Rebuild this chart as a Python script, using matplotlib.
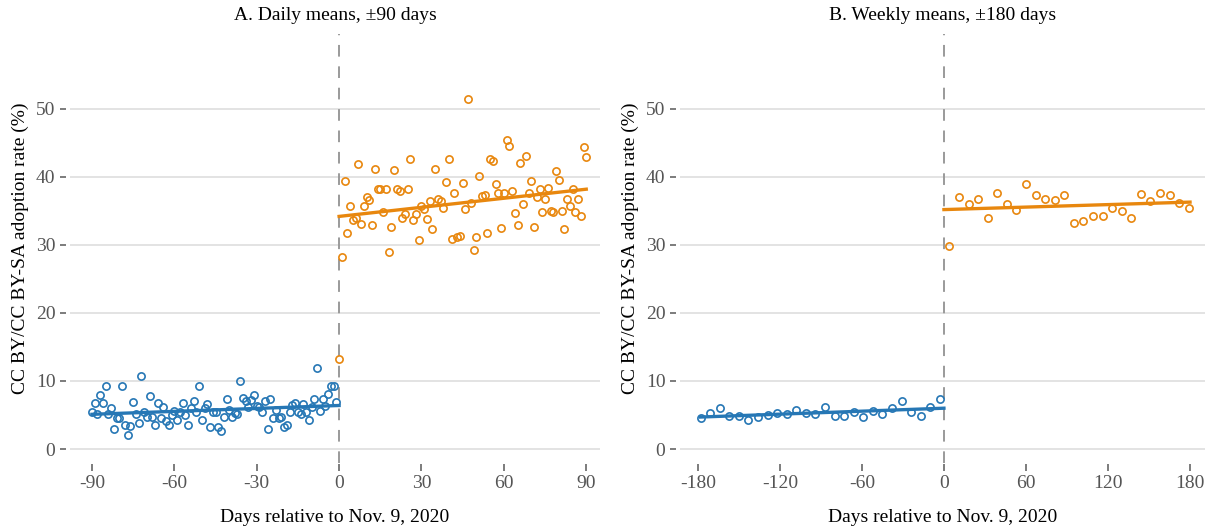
import matplotlib.pyplot as plt
import numpy as np

plt.rcParams['font.family'] = ['Liberation Serif', 'DejaVu Serif']

blue = '#2677b5'
orange = '#e8870e'
grey_txt = '#555555'

# panel A: daily means
daily_pre_days = list(range(-90, 0))
daily_pre = [5.5, 6.7, 5.1, 7.9, 6.7, 9.3, 5.1, 6.0, 3.0, 4.5,
             4.5, 9.3, 3.6, 2.0, 3.4, 6.9, 5.1, 3.8, 10.8, 5.4,
             4.7, 7.8, 4.7, 3.6, 6.8, 4.6, 6.2, 4.1, 3.5, 5.0,
             5.6, 4.3, 5.4, 6.8, 5.0, 3.6, 6.0, 7.1, 5.4, 9.3,
             4.2, 6.1, 6.6, 3.2, 5.5, 5.5, 3.2, 2.6, 4.7, 7.3,
             5.8, 4.7, 5.3, 5.1, 10.0, 7.5, 7.1, 6.2, 7.2, 7.9,
             6.3, 6.2, 5.5, 7.0, 2.9, 7.4, 4.6, 5.8, 4.5, 4.7,
             3.2, 3.5, 5.4, 6.5, 6.8, 5.5, 5.1, 6.6, 5.5, 4.3,
             6.2, 7.3, 11.9, 5.6, 7.4, 6.3, 8.1, 9.2, 9.3, 6.9]
daily_post_days = list(range(0, 91))
daily_post = [13.3,
              28.3, 39.4, 31.7, 35.7, 33.6, 33.9, 41.9, 33.1, 35.8, 37.0,
              36.6, 33.0, 41.1, 38.2, 38.3, 34.9, 38.2, 28.9, 32.7, 41.0,
              38.3, 38.0, 33.9, 34.6, 38.2, 42.6, 33.7, 34.6, 30.7, 35.7,
              35.3, 33.8, 36.5, 32.4, 41.1, 36.8, 36.5, 35.5, 39.2, 42.6,
              30.9, 37.6, 31.2, 31.3, 39.1, 35.3, 51.4, 36.1, 29.3, 31.2,
              40.1, 37.2, 37.3, 31.8, 42.7, 42.3, 38.9, 37.7, 32.5, 37.6,
              45.5, 44.6, 38.0, 34.7, 32.9, 42.1, 36.0, 43.1, 37.7, 39.4,
              32.7, 37.0, 38.2, 34.8, 36.7, 38.4, 35.0, 34.9, 40.9, 39.6,
              35.0, 32.4, 36.8, 35.8, 38.3, 34.9, 36.8, 34.2, 44.4, 42.9]
daily_fit_pre_x, daily_fit_pre_y = [-90, 0], [5.1, 6.4]
daily_fit_post_x, daily_fit_post_y = [0, 90], [34.2, 38.2]

# panel B: weekly means
weekly_pre_days = [-178, -171, -164, -157, -150, -143, -136, -129, -122, -115,
                   -108, -101, -94, -87, -80, -73, -66, -59, -52, -45,
                   -38, -31, -24, -17, -10, -3]
weekly_pre = [4.5, 5.3, 6.0, 4.9, 4.9, 4.3, 4.7, 5.0, 5.3, 5.2,
              5.7, 5.3, 5.1, 6.2, 4.9, 4.8, 5.4, 4.7, 5.6, 5.1,
              6.0, 7.0, 5.4, 4.9, 6.2, 7.3]
weekly_post_days = [4, 11, 18, 25, 32, 39, 46, 53, 60, 67,
                    74, 81, 88, 95, 102, 109, 116, 123, 130, 137,
                    144, 151, 158, 165, 172, 179]
weekly_post = [29.8, 37.0, 36.0, 36.8, 34.0, 37.7, 36.0, 35.1, 38.9, 37.3,
               36.7, 36.6, 37.3, 33.3, 33.5, 34.3, 34.3, 35.5, 35.0, 34.0,
               37.5, 36.5, 37.7, 37.3, 36.1, 35.4]
weekly_fit_pre_x, weekly_fit_pre_y = [-178, 0], [4.7, 6.0]
weekly_fit_post_x, weekly_fit_post_y = [0, 180], [35.2, 36.3]

fig = plt.figure(figsize=(12.17, 5.29), dpi=100)
ax1 = fig.add_axes([0.0575, 0.1255, 0.4355, 0.81])
ax2 = fig.add_axes([0.5588, 0.1255, 0.4314, 0.81])

panels = [
    (ax1, 'A. Daily means, \u00b190 days', (daily_pre_days, daily_pre), (daily_post_days, daily_post),
     (daily_fit_pre_x, daily_fit_pre_y), (daily_fit_post_x, daily_fit_post_y),
     [-90, -60, -30, 0, 30, 60, 90], (-98, 95)),
    (ax2, 'B. Weekly means, \u00b1180 days', (weekly_pre_days, weekly_pre), (weekly_post_days, weekly_post),
     (weekly_fit_pre_x, weekly_fit_pre_y), (weekly_fit_post_x, weekly_fit_post_y),
     [-180, -120, -60, 0, 60, 120, 180], (-193, 191)),
]

for ax, title, pre, post, fpre, fpost, xticks, xlim in panels:
    for y in [0, 10, 20, 30, 40, 50]:
        ax.axhline(y, color='#e3e3e3', lw=1.4, zorder=0)
    ax.axvline(0, color='#9a9a9a', lw=1.4, ls=(0, (6, 5)), zorder=1)
    ax.plot(pre[0], pre[1], 'o', mfc='none', mec=blue, ms=5.2, mew=1.2, zorder=3)
    ax.plot(post[0], post[1], 'o', mfc='none', mec=orange, ms=5.2, mew=1.2, zorder=3)
    ax.plot(fpre[0], fpre[1], color=blue, lw=2.4, zorder=4)
    ax.plot(fpost[0], fpost[1], color=orange, lw=2.4, zorder=4)
    ax.set_xlim(*xlim)
    ax.set_ylim(-2, 61)
    ax.set_xticks(xticks)
    ax.set_xticklabels([str(t) for t in xticks])
    ax.set_yticks([0, 10, 20, 30, 40, 50])
    for s in ax.spines.values():
        s.set_visible(False)
    ax.spines['bottom'].set_position(('outward', 1))
    ax.spines['left'].set_position(('outward', 3))
    ax.tick_params(axis='both', colors='#666666', labelcolor=grey_txt, labelsize=14, width=1.2)
    ax.tick_params(axis='x', length=5, pad=3)
    ax.tick_params(axis='y', length=4.5, pad=3)
    ax.set_title(title, fontsize=14, pad=10)
    ax.set_xlabel('Days relative to Nov. 9, 2020', fontsize=14, labelpad=12)
    ax.set_ylabel('CC BY/CC BY-SA adoption rate (%)', fontsize=14, labelpad=5)

plt.savefig('out.png', dpi=100)
